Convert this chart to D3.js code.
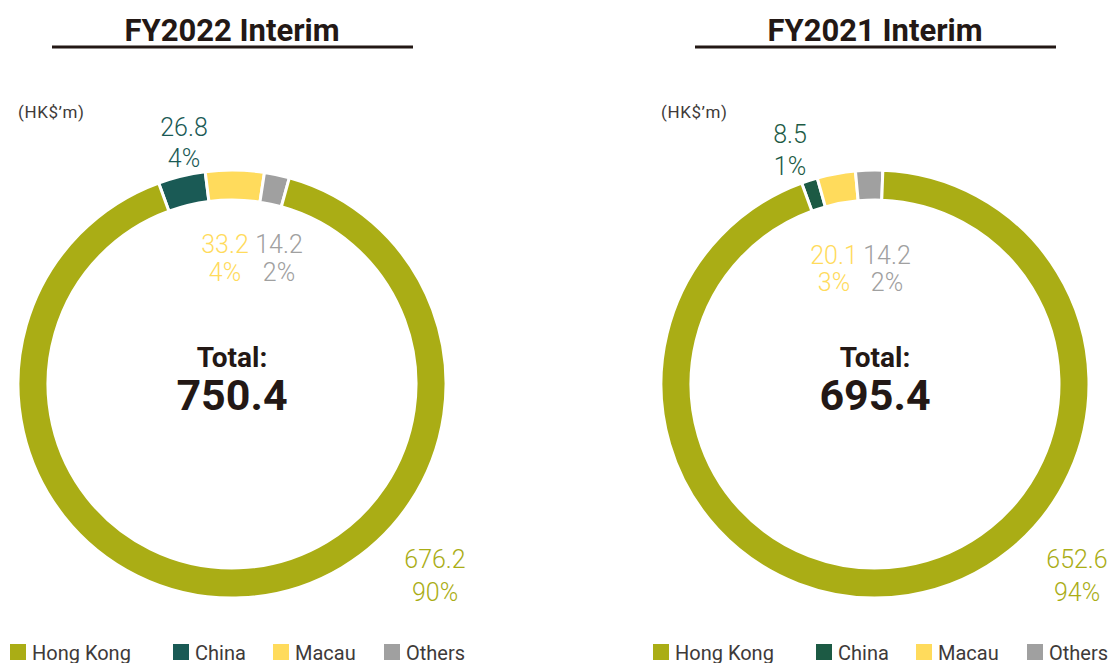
<!DOCTYPE html>
<html lang="en">
<head>
<meta charset="utf-8">
<script src="https://d3js.org/d3.v7.min.js"></script>
<style>
  body { margin: 0; background: #fff; }
  svg text { font-family: Roboto, "DejaVu Sans", sans-serif; }
</style>
</head>
<body>
<div id="chart"></div>
<script>

// chart data
const categories = ["Hong Kong", "China", "Macau", "Others"];
const titles = ["FY2022 Interim", "FY2021 Interim"];
const totals = ["750.4", "695.4"];
const fy2022Values = [676.2, 26.8, 33.2, 14.2];
const fy2022Pct = ["90%", "4%", "4%", "2%"];
const fy2021Values = [652.6, 8.5, 20.1, 14.2];
const fy2021Pct = ["94%", "1%", "3%", "2%"];
const unitLabel = "(HK$\u2019m)";

// slices go clockwise: China, Macau, Others, then Hong Kong
const drawOrder = [1, 2, 3, 0];

let width = 1110, height = 663;
let outerR = 214, innerR = 184;

// one panel per year, right one shifted across
let panels = [
  {
    dx: 0, values: fy2022Values, pct: fy2022Pct, title: titles[0], total: totals[0],
    colors: ["#aaad15", "#1a5a55", "#ffdb5c", "#a0a0a0"],
    // label anchors relative to the donut centre [x, baseline, line gap]
    labels: [[203, 184, 33], [-48, -248, 31], [-7, -131, 28], [47, -131, 28]]
  },
  {
    dx: 643, values: fy2021Values, pct: fy2021Pct, title: titles[1], total: totals[1],
    colors: ["#aaad15", "#1c5a44", "#ffdb5c", "#a0a0a0"],
    labels: [[202, 184, 33], [-85, -241, 32], [-41, -120, 27], [12, -120, 27]]
  }
];

let svg = d3.select("#chart").append("svg")
  .attr("width", width)
  .attr("height", height);

let pie = d3.pie()
  .sort(null)
  .value(function(d) { return d.value; })
  .startAngle(-0.35)
  .endAngle(-0.35 + 2 * Math.PI);

let arc = d3.arc().innerRadius(innerR).outerRadius(outerR);

let legendX = [10, 173, 273, 384];

panels.forEach(function(p) {
  let g = svg.append("g").attr("transform", "translate(" + p.dx + ",0)");
  let cx = 232, cy = 384;

  // title + rule underneath
  g.append("text")
    .attr("x", cx).attr("y", 41)
    .attr("text-anchor", "middle")
    .attr("font-size", 31).attr("font-weight", 700)
    .attr("fill", "#231815")
    .text(p.title);
  g.append("line")
    .attr("x1", 52).attr("x2", 413)
    .attr("y1", 47).attr("y2", 47)
    .attr("stroke", "#231815").attr("stroke-width", 3);

  g.append("text")
    .attr("x", 18).attr("y", 118)
    .attr("font-size", 17)
    .attr("letter-spacing", 0.6)
    .attr("fill", "#3e3a39")
    .text(unitLabel);

  let rows = drawOrder.map(function(i) {
    return { i: i, name: categories[i], value: p.values[i] };
  });

  let donut = g.append("g").attr("transform", "translate(" + cx + "," + cy + ")");

  donut.selectAll("path")
    .data(pie(rows))
    .enter().append("path")
    .attr("d", arc)
    .attr("fill", function(d) { return p.colors[d.data.i]; })
    .attr("stroke", "#fff")
    .attr("stroke-width", 3);

  // value and share labels
  categories.forEach(function(c, i) {
    let pos = p.labels[i];
    let fmt = d3.format(".1f");
    let t = donut.append("text")
      .attr("text-anchor", "middle")
      .attr("font-size", 25)
      .attr("font-weight", 300)
      .attr("fill", p.colors[i]);
    t.append("tspan").attr("x", pos[0]).attr("y", pos[1]).text(fmt(p.values[i]));
    t.append("tspan").attr("x", pos[0]).attr("y", pos[1] + pos[2]).text(p.pct[i]);
  });

  donut.append("text")
    .attr("y", -17)
    .attr("text-anchor", "middle")
    .attr("font-size", 28).attr("font-weight", 700)
    .attr("fill", "#231815")
    .text("Total:");
  donut.append("text")
    .attr("y", 26)
    .attr("text-anchor", "middle")
    .attr("font-size", 43).attr("font-weight", 700)
    .attr("fill", "#231815")
    .text(p.total);

  // legend
  let leg = g.selectAll(".leg")
    .data(categories)
    .enter().append("g")
    .attr("class", "leg")
    .attr("transform", function(d, i) { return "translate(" + legendX[i] + ",644)"; });
  leg.append("rect")
    .attr("width", 16).attr("height", 16)
    .attr("fill", function(d, i) { return p.colors[i]; });
  leg.append("text")
    .attr("x", 22).attr("y", 16)
    .attr("font-size", 20)
    .attr("fill", "#3e3a39")
    .text(function(d) { return d; });
});

</script>
</body>
</html>
